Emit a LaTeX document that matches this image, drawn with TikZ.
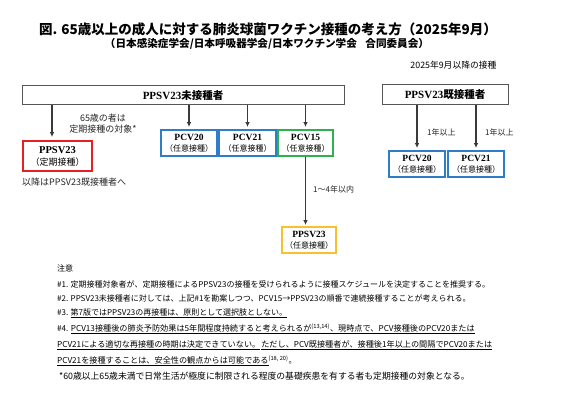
\documentclass[tikz,border=0pt]{standalone}
\usepackage{fontspec}
\setmainfont{Liberation Serif}
\newfontfamily\jp{Noto Sans CJK JP}
\newfontfamily\lser{Liberation Serif}
\usetikzlibrary{arrows.meta}
\definecolor{cred}{HTML}{E62020}
\definecolor{cblue}{HTML}{2F7DC8}
\definecolor{cgreen}{HTML}{2EB04E}
\definecolor{cyel}{HTML}{F6C12C}
\definecolor{cgray}{HTML}{555555}
\definecolor{carrow}{HTML}{3A3A3A}
\tikzset{
  graybox/.style={draw=cgray, line width=1pt, inner sep=0pt, align=center},
  vbox/.style={draw, line width=1.8pt, inner sep=0pt, align=center, minimum height=26pt},
  arr/.style={draw=carrow, line width=1.1pt, -{Latex[length=5pt,width=4.5pt]}},
  lbl/.style={font=\jp\fontsize{8}{9}\selectfont, inner sep=0pt, text=black!85},
  note/.style={font=\jp\fontsize{8}{9}\selectfont, inner sep=0pt, anchor=west, text=black},
}
\newcommand{\vlab}[2]{{\lser\bfseries\fontsize{9.5}{10}\selectfont #1}\\[-0.5pt]{\jp\fontsize{8}{9}\selectfont （#2）}}
\begin{document}
\begin{tikzpicture}[x=1pt,y=-1pt]
\useasboundingbox[fill=white] (0,0) rectangle (567,406);
% titles
\node[inner sep=0pt, font=\jp\bfseries\fontsize{13.5}{15}\selectfont] (title) at (268,29) {図. 65歳以上の成人に対する肺炎球菌ワクチン接種の考え方（2025年9月）};
\node[inner sep=0pt, font=\jp\bfseries\fontsize{10.6}{12}\selectfont] (sub) at (267,44) {（日本感染症学会/日本呼吸器学会/日本ワクチン学会\hspace{0.8em}合同委員会）};
\node[inner sep=0pt, font=\jp\fontsize{8.8}{10}\selectfont] (date) at (453.5,65) {2025年9月以降の接種};
% top boxes
\node[graybox, minimum width=322pt, minimum height=19pt] (main) at (183,95.5) {{\lser\bfseries\fontsize{11}{12}\selectfont PPSV23}{\jp\bfseries\fontsize{10.5}{12}\selectfont 未接種者}};
\node[graybox, minimum width=126pt, minimum height=20pt] (done) at (445,95) {{\lser\bfseries\fontsize{11}{12}\selectfont PPSV23}{\jp\bfseries\fontsize{10.5}{12}\selectfont 既接種者}};
% left red box
\node[vbox, draw=cred, minimum width=69pt, minimum height=30pt] (red) at (57.5,156) {{\lser\bfseries\fontsize{10.5}{11}\selectfont PPSV23}\\[0pt]{\jp\fontsize{9}{10}\selectfont （定期接種）}};
\node[lbl, font=\jp\fontsize{9}{11.5}\selectfont, align=center] (note65) at (103,123.5) {65歳の者は\\定期接種の対象*};
\node[lbl, font=\jp\fontsize{9}{10}\selectfont, anchor=west] (after) at (22,182) {以降はPPSV23既接種者へ};
% optional boxes
\node[vbox, draw=cblue, minimum width=56pt] (p20) at (189,143) {\vlab{PCV20}{任意接種}};
\node[vbox, draw=cblue, minimum width=57pt] (p21) at (247.5,143) {\vlab{PCV21}{任意接種}};
\node[vbox, draw=cgreen, minimum width=55pt] (p15) at (305.5,143) {\vlab{PCV15}{任意接種}};
\node[vbox, draw=cyel, minimum width=54pt] (yel) at (309,240) {\vlab{PPSV23}{任意接種}};
\node[vbox, draw=cblue, minimum width=56pt] (r20) at (417,164) {\vlab{PCV20}{任意接種}};
\node[vbox, draw=cblue, minimum width=56pt] (r21) at (476,164) {\vlab{PCV21}{任意接種}};
% arrows
\coordinate (a0) at (52,105);
\draw[arr, shorten >=3pt] (a0) -- (a0 |- red.north);
\draw[arr, shorten >=2pt] (main.south -| p20.north) -- (p20.north);
\draw[arr, shorten >=2pt] (main.south -| p21.north) -- (p21.north);
\draw[arr, shorten >=2pt] (main.south -| p15.north) -- (p15.north);
\draw[arr, shorten >=1pt] (p15.south) -- (p15.south |- yel.north);
\draw[arr, shorten >=2pt] (done.south -| r20.north) -- (r20.north);
\draw[arr, shorten >=2pt] (done.south -| r21.north) -- (r21.north);
\node[lbl, anchor=west] (l1) at (427,132) {1年以上};
\node[lbl, anchor=west] (l2) at (485,132) {1年以上};
\node[lbl, anchor=west] (l3) at (313,189) {1〜4年以内};
% notes
\node[note] (n0) at (57,268) {注意};
\node[note] (n1) at (57,284) {\#1. 定期接種対象者が、定期接種によるPPSV23の接種を受けられるように接種スケジュールを決定することを推奨する。};
\node[note] (n2) at (57,298) {\#2. PPSV23未接種者に対しては、上記\#1を勘案しつつ、PCV15→PPSV23の順番で連続接種することが考えられる。};
\node[note] (n3) at (57,313) {\#3. \underline{第7版ではPPSV23の再接種は、原則として選択肢としない。}};
\node[note, font=\jp\fontsize{8.15}{9}\selectfont] (n4) at (57,329) {\#4. \underline{PCV13接種後の肺炎予防効果は5年間程度持続すると考えられるが\textsuperscript{(13,14)}、現時点で、PCV接種後のPCV20または}};
\node[note, font=\jp\fontsize{8.15}{9}\selectfont] (n5) at (57,345) {\underline{PCV21による適切な再接種の時期は決定できていない。}\hspace{1pt}\underline{ただし、PCV既接種者が、接種後1年以上の間隔でPCV20または}};
\node[note, font=\jp\fontsize{8.15}{9}\selectfont] (n6) at (57,361) {\underline{PCV21を接種することは、安全性の観点からは可能である}\textsuperscript{(18, 20)}。};
\node[note, font=\jp\fontsize{8.8}{10}\selectfont] (n7) at (59,376) {*60歳以上65歳未満で日常生活が極度に制限される程度の基礎疾患を有する者も定期接種の対象となる。};
\end{tikzpicture}
\end{document}
